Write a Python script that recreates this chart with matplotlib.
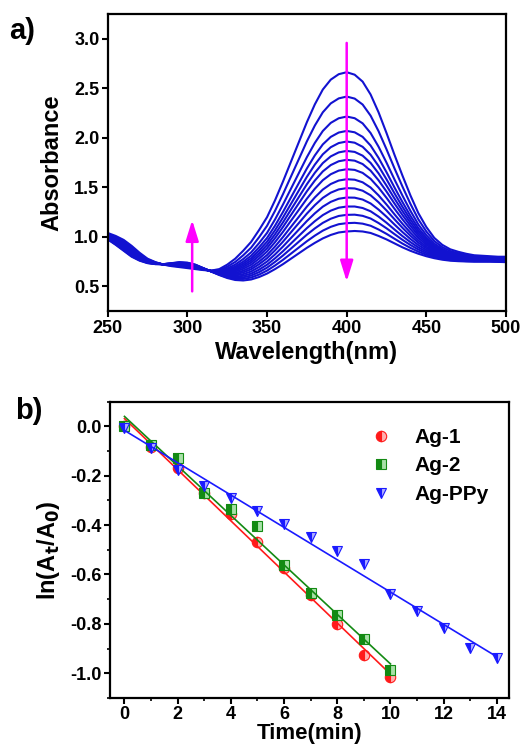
import matplotlib
matplotlib.use("Agg")
import matplotlib.pyplot as plt
import numpy as np
from matplotlib.ticker import MultipleLocator, FormatStrFormatter

plt.rcParams['font.family'] = ['Liberation Sans', 'DejaVu Sans']
plt.rcParams['font.weight'] = 'bold'
plt.rcParams['axes.labelweight'] = 'bold'
plt.rcParams['mathtext.default'] = 'bf'

# --- a) UV-vis spectra ---
wavelength = np.arange(250, 505, 5)

# first scan (highest 400 nm band)
abs_first = [1.04, 1.01, 0.97, 0.91, 0.84, 0.78, 0.745, 0.72, 0.705, 0.695,
             0.685, 0.675, 0.665, 0.66, 0.675, 0.72, 0.78, 0.86, 0.95, 1.07,
             1.20, 1.37, 1.56, 1.76, 1.96, 2.16, 2.34, 2.49, 2.59, 2.645,
             2.665, 2.64, 2.57, 2.44, 2.26, 2.05, 1.83, 1.62, 1.42, 1.24,
             1.10, 0.99, 0.92, 0.875, 0.85, 0.83, 0.815, 0.81, 0.805, 0.80,
             0.80]
# last scan (lowest 400 nm band)
abs_last = [0.975, 0.92, 0.86, 0.80, 0.76, 0.735, 0.725, 0.725, 0.735, 0.745,
            0.74, 0.72, 0.685, 0.65, 0.615, 0.585, 0.565, 0.56, 0.57, 0.595,
            0.63, 0.675, 0.725, 0.78, 0.835, 0.89, 0.94, 0.985, 1.02, 1.045,
            1.055, 1.06, 1.055, 1.04, 1.01, 0.975, 0.935, 0.895, 0.86, 0.83,
            0.805, 0.785, 0.77, 0.76, 0.755, 0.752, 0.75, 0.75, 0.75, 0.748,
            0.745]
# absorbance at 400 nm for each scan
peak_400 = [2.664, 2.418, 2.216, 2.071, 1.964, 1.869, 1.779, 1.684, 1.583,
            1.493, 1.398, 1.307, 1.223, 1.139, 1.055]

# --- b) kinetics ---
time_1 = [0, 1, 2, 3, 4, 5, 6, 7, 8, 9, 10]
ln_ag1 = [0.0, -0.083, -0.17, -0.27, -0.355, -0.47, -0.575, -0.684, -0.80, -0.927, -1.015]
time_2 = [0, 1, 2, 3, 4, 5, 6, 7, 8, 9, 10]
ln_ag2 = [0.0, -0.077, -0.13, -0.27, -0.335, -0.405, -0.563, -0.675, -0.766, -0.863, -0.988]
time_p = [0, 1, 2, 3, 4, 5, 6, 7, 8, 9, 10, 11, 12, 13, 14]
ln_ppy = [-0.005, -0.087, -0.175, -0.24, -0.29, -0.343, -0.395, -0.449, -0.504,
          -0.556, -0.68, -0.746, -0.816, -0.898, -0.94]

fig = plt.figure(figsize=(5.23, 7.48), dpi=100)
ax1 = fig.add_axes([0.206, 0.584, 0.7615, 0.397])
ax2 = fig.add_axes([0.210, 0.067, 0.763, 0.396])

# spectra: each scan mixes the first and last scan to hit its 400 nm value
first = np.array(abs_first)
last = np.array(abs_last)
i400 = list(wavelength).index(400)
for h in peak_400:
    f = (h - last[i400]) / (first[i400] - last[i400])
    ax1.plot(wavelength, last + f * (first - last), color='#1212d0', lw=1.5)

arrow = dict(arrowstyle='-|>,head_width=0.28,head_length=0.9', color='#ff00ff',
             lw=1.8, mutation_scale=14, shrinkA=0, shrinkB=0)
ax1.annotate('', xy=(303, 1.17), xytext=(303, 0.45), arrowprops=arrow)
ax1.annotate('', xy=(400, 0.55), xytext=(400, 2.96), arrowprops=arrow)

ax1.set_xlim(250, 500)
ax1.set_ylim(0.25, 3.25)
ax1.set_xticks([250, 300, 350, 400, 450, 500])
ax1.set_yticks([0.5, 1.0, 1.5, 2.0, 2.5, 3.0])
ax1.yaxis.set_major_formatter(FormatStrFormatter('%.1f'))
ax1.set_xlabel('Wavelength(nm)', fontsize=17, labelpad=3)
ax1.set_ylabel('Absorbance', fontsize=17, labelpad=8)

# kinetics with linear fits
series = [(time_1, ln_ag1, 'o', '#ff1a1a', '#ffb0b0', 'Ag-1'),
          (time_2, ln_ag2, 's', '#138a13', '#a8e0a8', 'Ag-2'),
          (time_p, ln_ppy, 'v', '#1a1aff', '#b0b0ff', 'Ag-PPy')]
for t, y, m, c, calt, lab in series:
    ax2.plot(t, y, m, ms=7.5, color=c, mec=c, mfc=c, mfcalt=calt,
             fillstyle='left', mew=0.8, label=lab)
    k, b = np.polyfit(t, y, 1)
    tt = np.array([t[0], t[-1]])
    ax2.plot(tt, k * tt + b, '-', color=c, lw=1.2)

ax2.set_xlim(-0.55, 14.45)
ax2.set_ylim(-1.1, 0.1)
ax2.xaxis.set_major_locator(MultipleLocator(2))
ax2.xaxis.set_minor_locator(MultipleLocator(1))
ax2.yaxis.set_major_locator(MultipleLocator(0.2))
ax2.yaxis.set_minor_locator(MultipleLocator(0.1))
ax2.yaxis.set_major_formatter(FormatStrFormatter('%.1f'))
ax2.set_xlabel('Time(min)', fontsize=16, labelpad=0)
ax2.set_ylabel('ln(A$_t$/A$_0$)', fontsize=17, labelpad=6)
ax2.legend(loc='upper right', frameon=False, fontsize=15, handlelength=1.0,
           handletextpad=1.1, borderaxespad=0.3, labelspacing=0.45,
           bbox_to_anchor=(0.985, 0.96))

for ax in (ax1, ax2):
    for s in ax.spines.values():
        s.set_linewidth(1.6)
    ax.tick_params(which='major', direction='out', length=4, width=1.5,
                   labelsize=13, pad=2)
    ax.tick_params(which='minor', direction='out', length=2.5, width=1.2)

fig.text(0.018, 0.948, 'a)', fontsize=21, fontweight='bold')
fig.text(0.028, 0.44, 'b)', fontsize=21, fontweight='bold')

fig.savefig('out.png', dpi=100)
